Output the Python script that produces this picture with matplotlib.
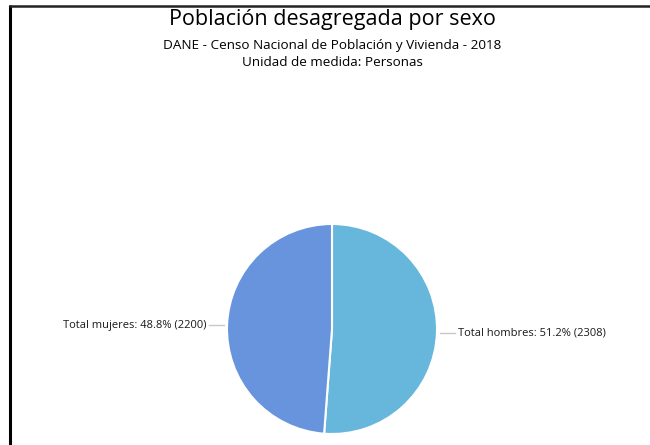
import matplotlib
matplotlib.use("Agg")
import matplotlib.pyplot as plt
import numpy as np

# Datos
categorias = ["Total hombres", "Total mujeres"]
valores = [2308, 2200]
colores = ["#67b7dc", "#6794dc"]

titulo = "Población desagregada por sexo"
subtitulo = "DANE - Censo Nacional de Población y Vivienda - 2018"
unidad = "Unidad de medida: Personas"

plt.rcParams['font.family'] = ['Open Sans', 'DejaVu Sans']

fig = plt.figure(figsize=(6.5, 4.45), dpi=100)
ax = fig.add_axes([0, 0, 1, 1])
ax.set_xlim(0, 650)
ax.set_ylim(0, 445)
ax.set_aspect('equal')
ax.axis('off')

cx, cy, r = 332, 445 - 329, 105
wedges, _ = ax.pie(valores, colors=colores, startangle=90, counterclock=False,
                   center=(cx, cy), radius=r,
                   wedgeprops=dict(edgecolor='white', linewidth=1.5))
ax.set_xlim(0, 650)
ax.set_ylim(0, 445)

total = sum(valores)
for w, cat, v in zip(wedges, categorias, valores):
    ang = np.deg2rad((w.theta1 + w.theta2) / 2)
    y = cy + r * np.sin(ang)
    lado = np.sign(np.cos(ang))
    x0 = cx + lado * np.sqrt(max(r**2 - (y - cy)**2, 0))
    ax.plot([x0 + lado * 3, x0 + lado * 18], [y, y], color='#c8c8c8', lw=1)
    ax.text(x0 + lado * 21, y, f"{cat}: {100 * v / total:.1f}% ({v})",
            ha='left' if lado > 0 else 'right', va='center',
            fontsize=8.0, color='#1a1a1a')

# Titulos
fig.text(332 / 650, 1 - 19 / 445, titulo, ha='center', va='center', fontsize=15.5)
fig.text(332 / 650, 1 - 45 / 445, subtitulo, ha='center', va='center', fontsize=9.7)
fig.text(332 / 650, 1 - 62 / 445, unidad, ha='center', va='center', fontsize=9.7)

# Marco
ax.plot([10, 10], [445 - 5, 0], color='black', lw=2.2, solid_capstyle='butt')
ax.plot([9, 650], [445 - 5.5, 445 - 5.5], color='#222222', lw=1.8, solid_capstyle='butt')

fig.savefig("out.png", dpi=100)
